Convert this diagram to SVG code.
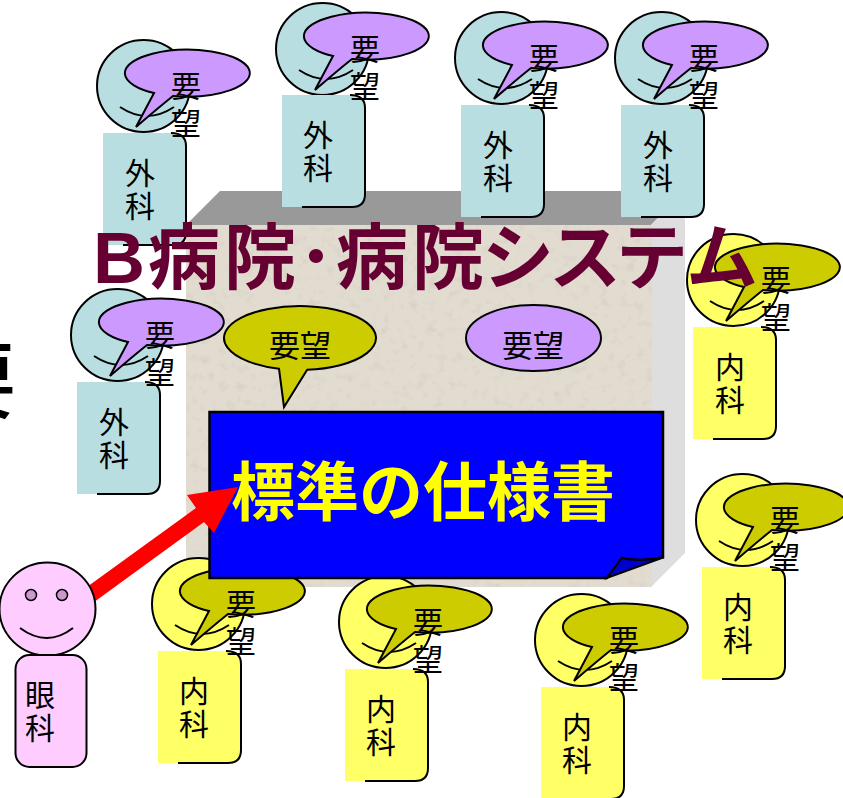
<svg xmlns="http://www.w3.org/2000/svg" width="843" height="798" viewBox="0 0 843 798">
<style>
text{font-family:"Noto Sans CJK JP","Noto Sans CJK SC",sans-serif;fill:#000}
.lbl{font-size:30px;text-anchor:middle}
.pair{font-size:31px;text-anchor:middle}
.ln{fill:none;stroke:#000;stroke-width:2}
.sh{stroke:#000;stroke-width:2}
.blue{fill:#B9DEE2}.yel{fill:#FFFF66}.pur{fill:#CC99FF}.oli{fill:#CCCC00}.pink{fill:#FFCCFF}
.title{font-size:72px;font-weight:700;fill:#660033}
</style>
<defs>
<filter id="stone" x="0" y="0" width="100%" height="100%">
<feTurbulence type="fractalNoise" baseFrequency="0.11" numOctaves="3" seed="7" result="n"/>
<feColorMatrix in="n" type="matrix" values="0 0 0 0 0.66  0 0 0 0 0.62  0 0 0 0 0.56  2.4 0 0 0 -1.3" result="s"/>
<feMerge><feMergeNode in="SourceGraphic"/><feMergeNode in="s"/></feMerge>
</filter>
<g id="head"><ellipse class="sh" cx="143.500" cy="86" rx="46.500" ry="46"/><path class="ln" d="M120,107Q147,125 174,107"/></g>
<g id="body"><path d="M103,133H173Q186,133 186,146V232Q186,245 173,245H103Z"/><path class="ln" d="M171,133Q186,133 186,146V232Q186,245 173,245H123"/></g>
<path id="bub" class="sh" d="M154,93L136,127Q158,108 173,96A62.500,23.500 0 1 0 154,93Z"/>
</defs>

<g id="box">
<polygon points="186,225 220,191 685,191 651,225" fill="#999999"/>
<polygon points="651,225 685,191 685,553 651,587" fill="#DEDEDE"/>
<rect x="186" y="225" width="466" height="362" fill="#E2DBCF" filter="url(#stone)"/>
</g>

<text id="cut" x="-68" y="412" font-size="84" font-weight="500">要</text>

<g id="p1" transform="translate(0,0)"><use href="#head" class="blue"/><use href="#body" class="blue"/><use href="#bub" class="pur"/><text class="lbl" x="186" y="97">要</text><text class="lbl" x="186" y="134">望</text><text class="lbl" x="140" y="184">外</text><text class="lbl" x="140" y="217">科</text></g>
<g id="p2" transform="translate(179,-37)"><use href="#head" class="blue"/><use href="#body" class="blue" transform="translate(0,-1)"/><use href="#bub" class="pur"/><text class="lbl" x="186" y="97">要</text><text class="lbl" x="186" y="134">望</text><text class="lbl" x="139" y="183">外</text><text class="lbl" x="139" y="216">科</text></g>
<g id="p3" transform="translate(358,-28)"><use href="#head" class="blue"/><use href="#body" class="blue"/><use href="#bub" class="pur"/><text class="lbl" x="186" y="97">要</text><text class="lbl" x="186" y="134">望</text><text class="lbl" x="140" y="184">外</text><text class="lbl" x="140" y="217">科</text></g>
<g id="p4" transform="translate(518,-28)"><use href="#head" class="blue"/><use href="#body" class="blue"/><use href="#bub" class="pur"/><text class="lbl" x="186" y="97">要</text><text class="lbl" x="186" y="134">望</text><text class="lbl" x="140" y="184">外</text><text class="lbl" x="140" y="217">科</text></g>
<g id="p5" transform="translate(-26,249)"><use href="#head" class="blue"/><use href="#body" class="blue"/><use href="#bub" class="pur"/><text class="lbl" x="186" y="97">要</text><text class="lbl" x="186" y="134">望</text><text class="lbl" x="140" y="184">外</text><text class="lbl" x="140" y="217">科</text></g>
<g id="p6" transform="translate(590,194)"><use href="#head" class="yel"/><use href="#body" class="yel"/><use href="#bub" class="oli"/><text class="lbl" x="186" y="97">要</text><text class="lbl" x="186" y="134">望</text><text class="lbl" x="140" y="184">内</text><text class="lbl" x="140" y="217">科</text></g>
<g id="p7" transform="translate(599,434)"><use href="#head" class="yel"/><use href="#body" class="yel"/><use href="#bub" class="oli"/><text class="lbl" x="186" y="97">要</text><text class="lbl" x="186" y="134">望</text><text class="lbl" x="139" y="184">内</text><text class="lbl" x="139" y="217">科</text></g>
<g id="p8" transform="translate(55,518)"><use href="#head" class="yel"/><use href="#body" class="yel"/><use href="#bub" class="oli"/><text class="lbl" x="186" y="97">要</text><text class="lbl" x="186" y="134">望</text><text class="lbl" x="139" y="184">内</text><text class="lbl" x="139" y="217">科</text></g>
<g id="p9" transform="translate(242,536)"><use href="#head" class="yel"/><use href="#body" class="yel"/><use href="#bub" class="oli"/><text class="lbl" x="186" y="97">要</text><text class="lbl" x="186" y="134">望</text><text class="lbl" x="139" y="184">内</text><text class="lbl" x="139" y="217">科</text></g>
<g id="p10" transform="translate(438,554)"><use href="#head" class="yel"/><use href="#body" class="yel"/><use href="#bub" class="oli"/><text class="lbl" x="186" y="97">要</text><text class="lbl" x="186" y="134">望</text><text class="lbl" x="139" y="184">内</text><text class="lbl" x="139" y="217">科</text></g>

<g id="req-olive"><path class="sh oli" d="M279,368.754L284,407L307,369.864A76,32 0 1 0 279,368.754Z"/><text class="pair" x="300" y="357">要望</text></g>
<g id="req-purple"><ellipse class="sh pur" cx="533.500" cy="338" rx="67.500" ry="33"/><text class="pair" x="533" y="357">要望</text></g>

<g id="note">
<path d="M209.500,412H663V557.500Q640,562 622,558L607,578H209.500Z" fill="#0000FF" stroke="#000" stroke-width="2.500"/>
<path d="M607,578L622,558Q640,562 663,557.500Z" fill="#0000CC" stroke="#000" stroke-width="2"/>
</g>

<g id="connectors"><polygon points="238,487 187,495 196,508 80,592 90,605 204,522 214,533" fill="#FF0000"/></g>

<g id="note-label"><text x="231" y="515" font-size="64" font-weight="700" style="fill:#FFFF00">標準の仕様書</text></g>

<g id="p-pink"><ellipse class="sh pink" cx="47.500" cy="609" rx="48" ry="46.500"/><circle cx="31" cy="595" r="5.500" fill="#CC99CC" stroke="#000" stroke-width="1.500"/><circle cx="62" cy="595" r="5.500" fill="#CC99CC" stroke="#000" stroke-width="1.500"/><path class="ln" d="M20,628Q47,648 73,628"/><rect class="sh pink" x="15.500" y="655" width="71" height="112" rx="14"/><text class="lbl" x="40" y="706">眼</text><text class="lbl" x="40" y="739">科</text></g>

<g id="title"><text class="title" x="93" y="283" style="font-family:'Liberation Sans',sans-serif;fill:#660033">B</text><text class="title" y="283" x="148 224 298 336 412 482 549 616 686">病院･病院システム</text></g>
</svg>
